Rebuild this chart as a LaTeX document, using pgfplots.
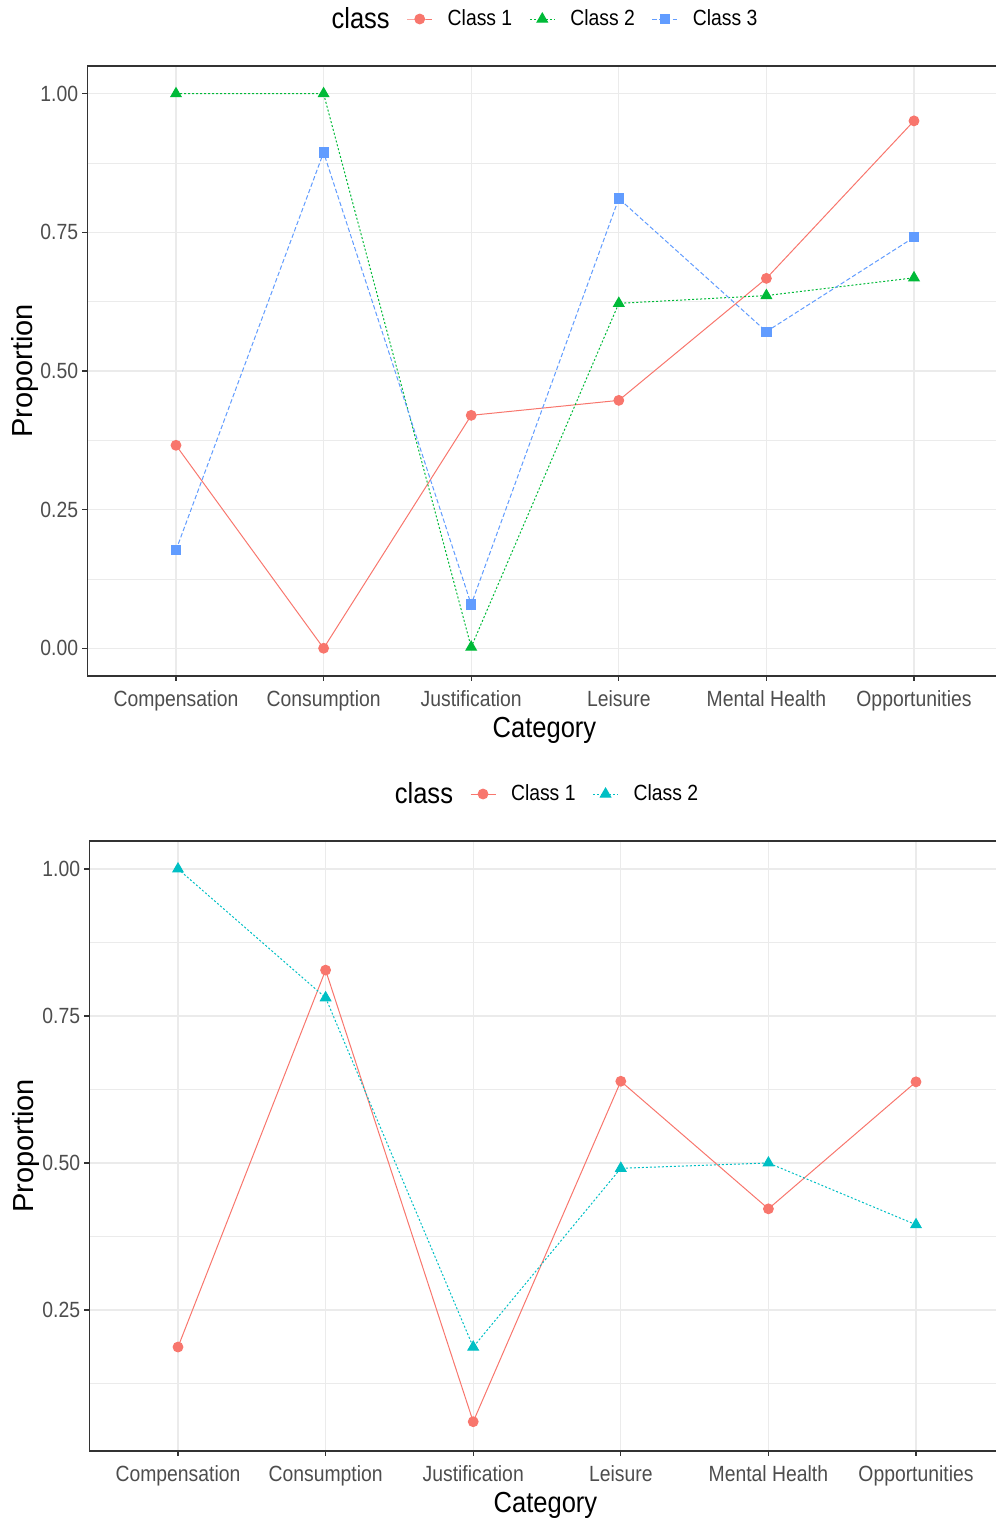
\documentclass[border=0pt]{standalone}
\usepackage{fontspec}
\setmainfont{Liberation Sans}[FakeStretch=0.88]
\newfontfamily\ylabfont{Liberation Sans}
\usepackage{pgfplots}
\pgfplotsset{compat=1.18}
\definecolor{c1}{HTML}{F8766D}
\definecolor{c2}{HTML}{00BA38}
\definecolor{c3}{HTML}{619CFF}
\definecolor{c2b}{HTML}{00BFC4}
\definecolor{gridc}{HTML}{EBEBEB}
\definecolor{tickc}{HTML}{4D4D4D}
\definecolor{borderc}{HTML}{333333}
\pgfplotsset{
 gg/.style={
  scale only axis, height=305pt,
  xtick={0,...,5},
  xticklabels={Compensation,Consumption,Justification,Leisure,Mental Health,Opportunities},
  xmin=-0.6,
  tick align=outside, tick pos=left,
  major tick length=2.5pt, minor tick length=0pt,
  tick style={borderc, line width=0.55pt},
  xmajorgrids, ymajorgrids, yminorgrids,
  major grid style={gridc, line width=0.6pt},
  minor grid style={gridc, line width=0.35pt},
  axis line style={draw=none},
  clip=false,
  /pgf/number format/assume math mode=true,
  ticklabel style={font=\fontsize{11}{13}\selectfont, text=tickc},
  xticklabel style={anchor=base, inner sep=0pt, yshift=-13pt},
  yticklabel style={anchor=east, inner sep=0pt, xshift=-2pt},
  label style={font=\fontsize{14.5}{17}\selectfont},
  ylabel style={font=\fontsize{14.5}{17}\selectfont\ylabfont},
  xlabel=Category, ylabel=Proportion,
  legend cell align=left,
  legend image code/.code={\draw[mark repeat=2,mark phase=2,#1] plot coordinates {(0pt,0pt) (6.25pt,0pt) (12.5pt,0pt)};},
  legend style={draw=none, fill=none, legend columns=-1, anchor=center,
    font=\fontsize{11}{13}\selectfont, inner sep=0pt, outer sep=0pt,
    nodes={inner sep=0pt},
    /tikz/every odd column/.append style={column sep=7.5pt},
    /tikz/every even column/.append style={column sep=8.5pt}},
 },
 c1s/.style={c1, line width=0.5pt, mark=*, mark size=2.45pt, mark options={solid}},
 c2s/.style={c2, line width=0.5pt, dash pattern=on 1pt off 1pt, mark=triangle*, mark size=3pt, mark options={solid}},
 c3s/.style={c3, line width=0.5pt, dash pattern=on 2.2pt off 1.2pt, mark=square*, mark size=2.3pt, mark options={solid}},
 c2bs/.style={c2b, line width=0.5pt, dash pattern=on 1pt off 1pt, mark=triangle*, mark size=3pt, mark options={solid}},
}
\begin{document}
\begin{tikzpicture}
\useasboundingbox (0,0) rectangle (498pt,759.5pt);
\clip (0,0) rectangle (498pt,759.5pt);
% top panel
\begin{axis}[gg, at={(43.72pt,421.5pt)}, anchor=south west, width=454.28pt,
  xmax=5.5556, ymin=-0.05, ymax=1.05,
  ytick={0,0.25,0.5,0.75,1}, yticklabels={0.00,0.25,0.50,0.75,1.00},
  minor ytick={0.125,0.375,0.625,0.875},
  xlabel style={at={(axis description cs:0.503,-0.1016)}, anchor=base},
  ylabel style={at={(axis description cs:-0.061,0.5)}, anchor=base},
  legend style={at={(0.4948,1.077)}},
]
\addlegendimage{empty legend}
\addlegendentry{\fontsize{14.5}{17}\selectfont class}
\addplot[c1s] coordinates {(0,0.366) (1,0) (2,0.420) (3,0.447) (4,0.667) (5,0.951)};
\addlegendentry{Class 1}
\addplot[c2s] coordinates {(0,1) (1,1) (2,0.002) (3,0.622) (4,0.636) (5,0.668)};
\addlegendentry{Class 2}
\addplot[c3s] coordinates {(0,0.177) (1,0.894) (2,0.079) (3,0.811) (4,0.571) (5,0.741)};
\addlegendentry{Class 3}
\draw[borderc, line width=0.8pt] (rel axis cs:1,1) -- (rel axis cs:0,1) -- (rel axis cs:0,0) -- (rel axis cs:1,0);
\end{axis}
% bottom panel
\begin{axis}[gg, at={(44.72pt,34pt)}, anchor=south west, width=453.28pt,
  xmax=5.542, ymin=0.0102, ymax=1.0476,
  ytick={0.25,0.5,0.75,1}, yticklabels={0.25,0.50,0.75,1.00},
  minor ytick={0.125,0.375,0.625,0.875},
  xlabel style={at={(axis description cs:0.503,-0.1016)}, anchor=base},
  ylabel style={at={(axis description cs:-0.0622,0.5)}, anchor=base},
  legend style={at={(0.4959,1.077)}},
]
\addlegendimage{empty legend}
\addlegendentry{\fontsize{14.5}{17}\selectfont class}
\addplot[c1s] coordinates {(0,0.187) (1,0.828) (2,0.060) (3,0.639) (4,0.422) (5,0.638)};
\addlegendentry{Class 1}
\addplot[c2bs] coordinates {(0,1) (1,0.781) (2,0.187) (3,0.491) (4,0.500) (5,0.395)};
\addlegendentry{Class 2}
\draw[borderc, line width=0.8pt] (rel axis cs:1,1) -- (rel axis cs:0,1) -- (rel axis cs:0,0) -- (rel axis cs:1,0);
\end{axis}
\end{tikzpicture}
\end{document}
